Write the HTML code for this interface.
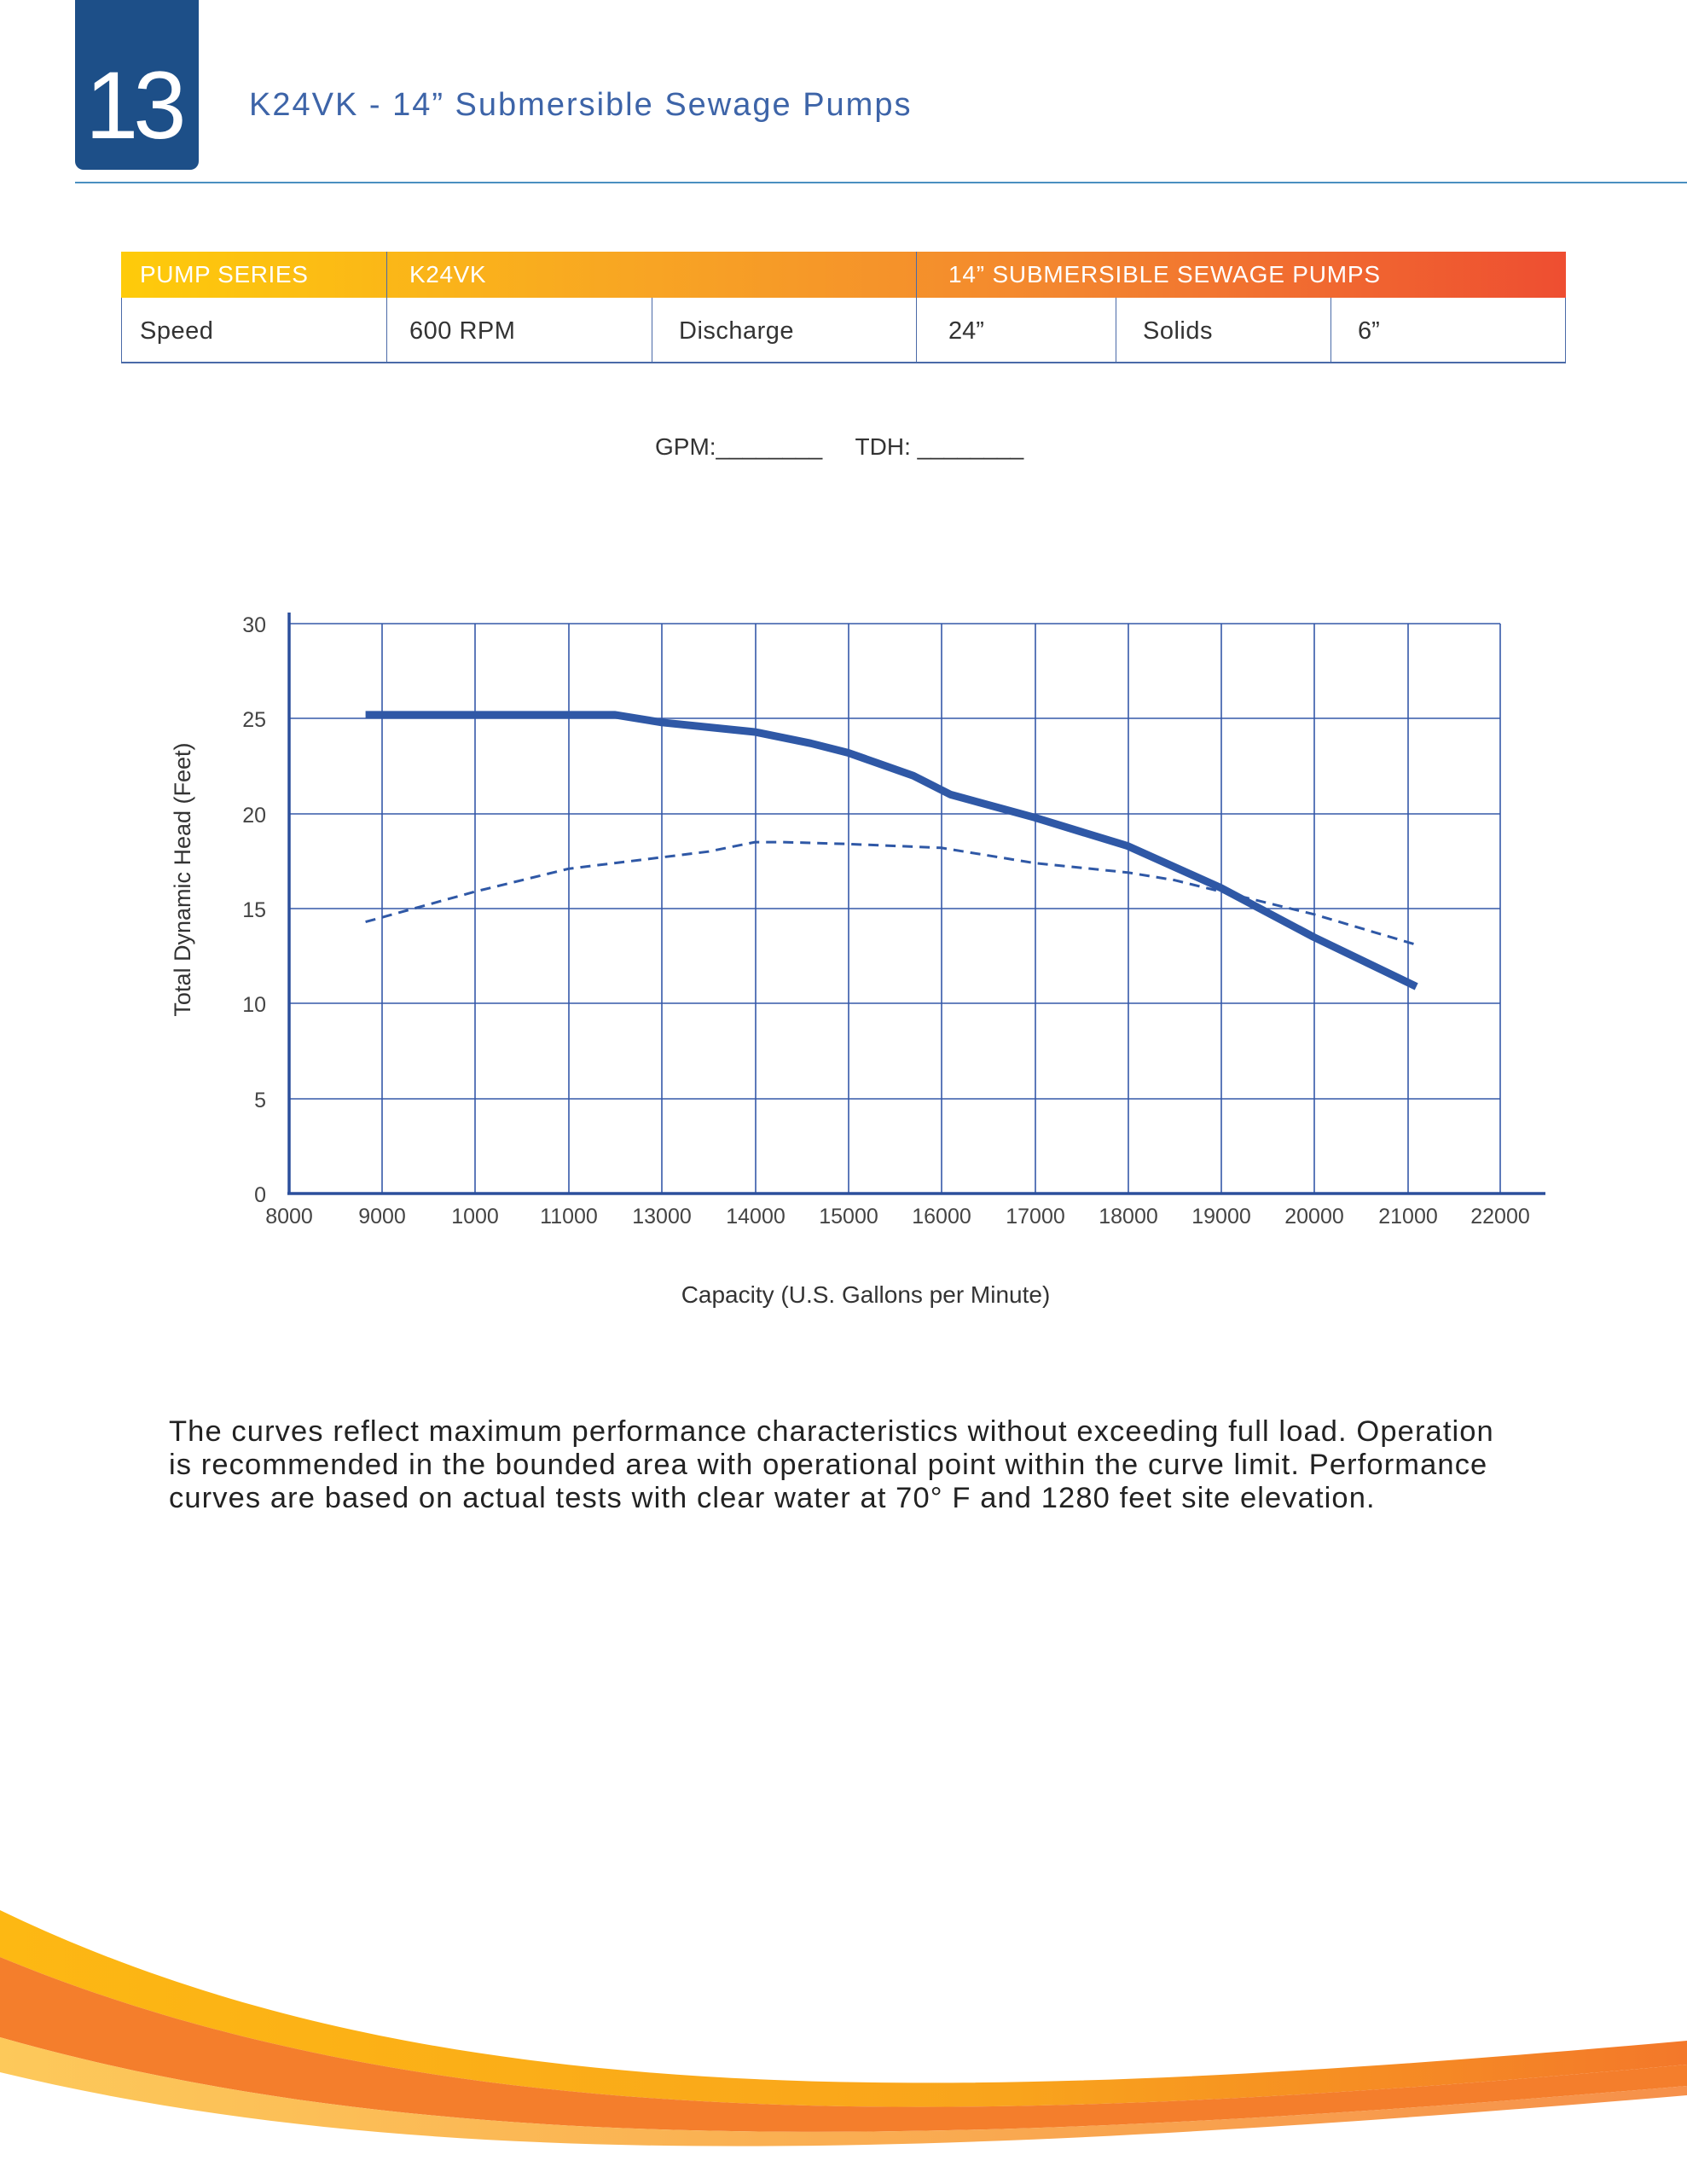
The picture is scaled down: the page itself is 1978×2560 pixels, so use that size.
<!DOCTYPE html>
<html><head><meta charset="utf-8"><style>
body{margin:0;width:1978px;height:2560px;background:#fff;position:relative;overflow:hidden;font-family:"Liberation Sans",sans-serif}
.t{position:absolute;white-space:nowrap}
</style></head><body>
<div style="position:absolute;left:88px;top:0;width:145px;height:199px;background:#1d4f88;border-radius:0 0 10px 10px"></div>
<div class="t" style="left:100px;top:68px;font-size:112px;color:#fff;letter-spacing:-6px;line-height:1">13</div>
<div class="t" style="left:292px;top:102px;font-size:38px;letter-spacing:2px;color:#3d64a8">K24VK - 14” Submersible Sewage Pumps</div>
<div style="position:absolute;left:88px;top:213px;width:1890px;height:2px;background:#4a8fc0"></div>

<div style="position:absolute;left:142px;top:295px;width:1694px;height:54px;background:linear-gradient(90deg,#fecb0a 0%,#f8a623 35%,#f3862f 65%,#ee4e31 100%)"></div>
<div style="position:absolute;left:142px;top:349px;width:1692px;height:75px;border:1px solid #4a6aa8;border-top:none;border-bottom:2px solid #4a6aa8"></div>
<div style="position:absolute;left:453px;top:295px;width:1px;height:131px;background:#4a6aa8"></div>
<div style="position:absolute;left:1074px;top:295px;width:1px;height:131px;background:#4a6aa8"></div>
<div style="position:absolute;left:764px;top:349px;width:1px;height:77px;background:#4a6aa8"></div>
<div style="position:absolute;left:1308px;top:349px;width:1px;height:77px;background:#4a6aa8"></div>
<div style="position:absolute;left:1560px;top:349px;width:1px;height:77px;background:#4a6aa8"></div>
<div class="t" style="left:164px;top:306px;font-size:28px;letter-spacing:0.6px;color:#fff">PUMP SERIES</div>
<div class="t" style="left:480px;top:306px;font-size:28px;letter-spacing:0.6px;color:#fff">K24VK</div>
<div class="t" style="left:1112px;top:306px;font-size:28px;letter-spacing:0.8px;color:#fff">14” SUBMERSIBLE SEWAGE PUMPS</div>
<div class="t" style="left:164px;top:372px;font-size:29px;letter-spacing:0.5px;color:#333">Speed</div>
<div class="t" style="left:480px;top:372px;font-size:29px;letter-spacing:0.5px;color:#333">600 RPM</div>
<div class="t" style="left:796px;top:372px;font-size:29px;letter-spacing:0.5px;color:#333">Discharge</div>
<div class="t" style="left:1112px;top:372px;font-size:29px;color:#333">24”</div>
<div class="t" style="left:1340px;top:372px;font-size:29px;letter-spacing:0.5px;color:#333">Solids</div>
<div class="t" style="left:1592px;top:372px;font-size:29px;color:#333">6”</div>
<div class="t" style="left:768px;top:508px;font-size:28px;color:#333">GPM:________ &nbsp;&nbsp;&nbsp; TDH: ________</div>

<svg style="position:absolute;left:0;top:0" width="1978" height="2560">
<g stroke="#3558a8" stroke-width="1.6" fill="none">
<line x1="339" y1="731" x2="1759" y2="731"/><line x1="339" y1="842" x2="1759" y2="842"/>
<line x1="339" y1="954" x2="1759" y2="954"/><line x1="339" y1="1065" x2="1759" y2="1065"/>
<line x1="339" y1="1176" x2="1759" y2="1176"/><line x1="339" y1="1288" x2="1759" y2="1288"/>
<line x1="448" y1="731" x2="448" y2="1399"/><line x1="557" y1="731" x2="557" y2="1399"/>
<line x1="667" y1="731" x2="667" y2="1399"/><line x1="776" y1="731" x2="776" y2="1399"/>
<line x1="886" y1="731" x2="886" y2="1399"/><line x1="995" y1="731" x2="995" y2="1399"/>
<line x1="1104" y1="731" x2="1104" y2="1399"/><line x1="1214" y1="731" x2="1214" y2="1399"/>
<line x1="1323" y1="731" x2="1323" y2="1399"/><line x1="1432" y1="731" x2="1432" y2="1399"/>
<line x1="1541" y1="731" x2="1541" y2="1399"/><line x1="1651" y1="731" x2="1651" y2="1399"/>
<line x1="1759" y1="731" x2="1759" y2="1399"/>
</g>
<line x1="339" y1="718" x2="339" y2="1400" stroke="#2b4f9c" stroke-width="3.5"/>
<line x1="337" y1="1399" x2="1812" y2="1399" stroke="#2b4f9c" stroke-width="3.5"/>
<polyline fill="none" stroke="#2f58a6" stroke-width="9" stroke-linejoin="round" points="428.6,837.9 721.3,837.9 775.9,846.8 885.2,858 950.7,871.3 994.4,882.4 1070.8,909.2 1114.5,931.4 1212.8,958.2 1322.1,991.6 1431.3,1040.6 1540.5,1098.5 1660.7,1156.4"/>
<polyline fill="none" stroke="#2f58a6" stroke-width="3" stroke-dasharray="12,8" points="428.6,1080.6 557.5,1045 666.7,1018.3 775.9,1004.9 830.5,998.2 885.2,987.1 917.9,987.1 994.4,989.3 1103.6,993.8 1212.8,1011.6 1322.1,1022.7 1376.7,1031.6 1431.3,1045 1540.5,1071.7 1660.7,1107.4"/>
<g font-family="Liberation Sans, sans-serif" font-size="25" fill="#444" text-anchor="end">
<text x="312" y="741">30</text><text x="312" y="852">25</text><text x="312" y="964">20</text>
<text x="312" y="1075">15</text><text x="312" y="1186">10</text><text x="312" y="1298">5</text><text x="312" y="1409">0</text>
</g>
<g font-family="Liberation Sans, sans-serif" font-size="25" fill="#444" text-anchor="middle">
<text x="339" y="1434">8000</text><text x="448" y="1434">9000</text><text x="557" y="1434">1000</text>
<text x="667" y="1434">11000</text><text x="776" y="1434">13000</text><text x="886" y="1434">14000</text>
<text x="995" y="1434">15000</text><text x="1104" y="1434">16000</text><text x="1214" y="1434">17000</text>
<text x="1323" y="1434">18000</text><text x="1432" y="1434">19000</text><text x="1541" y="1434">20000</text>
<text x="1651" y="1434">21000</text><text x="1759" y="1434">22000</text>
<text x="1015" y="1527" font-size="28" fill="#333">Capacity (U.S. Gallons per Minute)</text>
<text x="0" y="0" font-size="27" fill="#333" transform="translate(223,1031) rotate(-90)">Total Dynamic Head (Feet)</text>
</g>
<defs>
<linearGradient id="gy" x1="0" x2="1"><stop offset="0" stop-color="#fdb813"/><stop offset="0.6" stop-color="#f9a41c"/><stop offset="1" stop-color="#f3782a"/></linearGradient>
<linearGradient id="gl" x1="0" x2="1"><stop offset="0" stop-color="#fdc95a"/><stop offset="0.6" stop-color="#f9a850"/><stop offset="1" stop-color="#f6904a"/></linearGradient>
</defs>
<path d="M0 2239 C500 2480 1100 2470 1978 2392 L1978 2420 C1100 2500 500 2500 0 2294 Z" fill="url(#gy)"/>
<path d="M0 2294 C500 2500 1100 2500 1978 2420 L1978 2445 C1100 2520 500 2530 0 2388 Z" fill="#f47e2c"/>
<path d="M0 2388 C500 2530 1100 2520 1978 2445 L1978 2456 C1100 2530 500 2550 0 2429 Z" fill="url(#gl)"/>
</svg>

<div class="t" style="left:198px;top:1659px;font-size:34.5px;letter-spacing:1.1px;color:#222;line-height:39px">The curves reflect maximum performance characteristics without exceeding full load. Operation<br>is recommended in the bounded area with operational point within the curve limit. Performance<br>curves are based on actual tests with clear water at 70° F and 1280 feet site elevation.</div>
</body></html>
